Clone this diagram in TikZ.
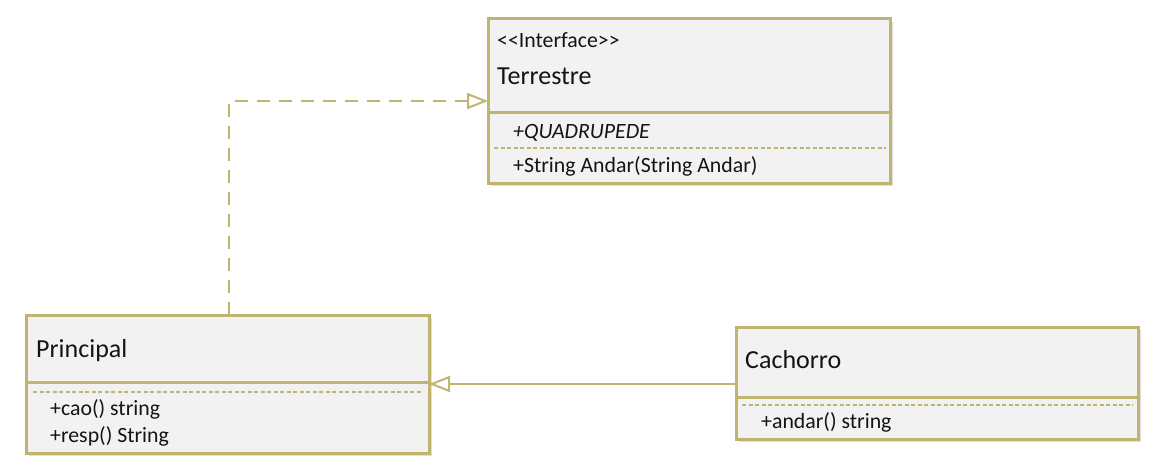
\documentclass[tikz,border=0pt]{standalone}
\usepackage{fontspec}
\setmainfont{Carlito}
\usetikzlibrary{arrows.meta, positioning, calc, shadows}
\definecolor{umlline}{RGB}{191,181,112}
\definecolor{umlfill}{RGB}{242,242,242}
\definecolor{umltext}{RGB}{20,20,20}

\begin{document}
\begin{tikzpicture}[x=1pt, y=-1pt,
  classbox/.style={draw=umlline, line width=3pt, fill=umlfill, inner sep=0pt, outer sep=0pt,
    drop shadow={shadow xshift=2.5pt, shadow yshift=-3pt, fill=black, opacity=0.12}},
  classname/.style={anchor=base west, inner sep=0pt, text=umltext, font=\fontsize{26}{30}\selectfont},
  member/.style={anchor=base west, inner sep=0pt, text=umltext, font=\fontsize{21.8}{25}\selectfont},
  sepline/.style={draw=umlline, line width=1.8pt, dash pattern=on 4pt off 2.5pt},
  realizes/.style={draw=umlline, line width=2pt, dash pattern=on 13pt off 9pt,
    -{Triangle[open, length=21pt, width=16pt, line width=2pt]}},
  inherits/.style={draw=umlline, line width=2pt,
    -{Triangle[open, length=21pt, width=16pt, line width=2pt]}}]
  \useasboundingbox (0,0) rectangle (1158,468);

  % ---- Terrestre (interface) ----
  \node[classbox, anchor=north west, minimum width=402pt, minimum height=94pt] (terrh) at (488,19) {};
  \node[classbox, minimum width=402pt, minimum height=70pt, below=0pt of terrh] (terrb) {};
  \node[member] (terrst) at (497,48) {{<}{<}Interface{>}{>}};
  \node[classname] (terrnm) at (497,85) {Terrestre};
  \draw[sepline] (494,148) -- (886,148);
  \node[member, font=\fontsize{21.8}{25}\selectfont\itshape] (terrat) at (513,138) {+QUADRUPEDE};
  \node[member] (terrop) at (513,172) {+String Andar(String Andar)};

  % ---- Principal ----
  \node[classbox, anchor=north west, minimum width=403pt, minimum height=67pt] (princh) at (26,315) {};
  \node[classbox, minimum width=403pt, minimum height=71pt, below=0pt of princh] (princb) {};
  \node[classname] (princnm) at (36,357) {Principal};
  \draw[sepline] (33,392) -- (423,392);
  \node[member] (princopa) at (50,415) {+cao() string};
  \node[member] (princopb) at (50,442) {+resp() String};

  % ---- Cachorro ----
  \node[classbox, anchor=north west, minimum width=402pt, minimum height=70pt] (cachh) at (736,327) {};
  \node[classbox, minimum width=402pt, minimum height=42pt, below=0pt of cachh] (cachb) {};
  \node[classname] (cachnm) at (745,368) {Cachorro};
  \draw[sepline] (742,405) -- (1133,405);
  \node[member] (cachop) at (761,428) {+andar() string};

  % ---- relations ----
  \coordinate (terrin) at ($(terrh.north west)+(0,82)$);
  \coordinate (princup) at ($(princh.north west)+(203,0)$);
  \draw[realizes] (princup) |- (terrin);
  \coordinate (cachout) at ($(cachh.south west)+(0,-13)$);
  \draw[inherits] (cachout) -- (cachout -| princb.east);
\end{tikzpicture}
\end{document}
